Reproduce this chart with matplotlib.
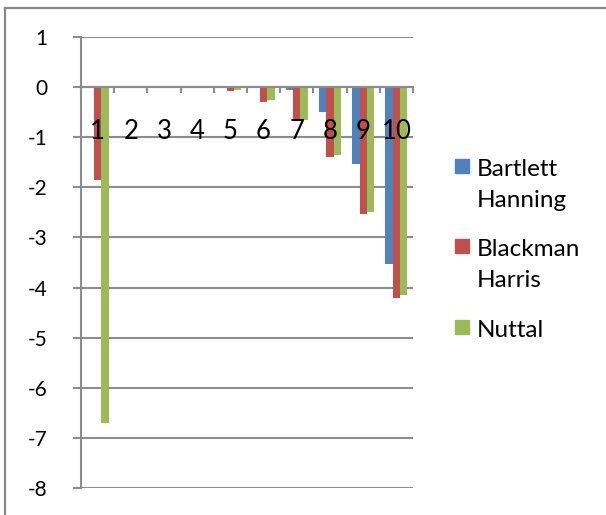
import matplotlib
matplotlib.use("Agg")
import matplotlib.pyplot as plt
from matplotlib.lines import Line2D
from matplotlib.patches import Rectangle
import numpy as np

categories = ["1", "2", "3", "4", "5", "6", "7", "8", "9", "10"]
series_names = ["Bartlett\nHanning", "Blackman\nHarris", "Nuttal"]
bartlett_hanning = [0.0, 0.02, 0.0, -0.01, -0.01, 0.0, -0.05, -0.49, -1.54, -3.52]
blackman_harris = [-1.86, 0.0, 0.0, -0.01, -0.08, -0.29, -0.67, -1.39, -2.54, -4.20]
nuttal = [-6.71, 0.0, 0.0, -0.01, -0.06, -0.25, -0.65, -1.35, -2.49, -4.15]
y_ticks = [1, 0, -1, -2, -3, -4, -5, -6, -7, -8]

colors = ["#4F81BD", "#C0504D", "#9BBB59"]
grid_color = "#8C8C8C"

W, H = 606, 515
plt.rcParams["font.family"] = ["Lato", "DejaVu Sans"]
fig = plt.figure(figsize=(W / 100, H / 100), dpi=100)
fig.patch.set_facecolor("white")

# plot area in pixel coordinates
left_px, right_px, top_px, bottom_px = 81, 413, 37, 488
ax = fig.add_axes([left_px / W, 1 - bottom_px / H,
                   (right_px - left_px) / W, (bottom_px - top_px) / H])

x = np.arange(len(categories))
bar_w = 1 / 4.5
for i, (vals, c) in enumerate(zip([bartlett_hanning, blackman_harris, nuttal], colors)):
    ax.bar(x + (i - 1) * bar_w, vals, width=bar_w, color=c, zorder=3)

ax.set_xlim(-0.5, len(categories) - 0.5)
ax.set_ylim(min(y_ticks), max(y_ticks))

# horizontal gridlines
ax.set_yticks(y_ticks)
ax.set_yticklabels([str(v) for v in y_ticks], fontsize=15)
ax.yaxis.grid(True, color=grid_color, linewidth=1.5, zorder=0)
ax.tick_params(axis="y", length=6, width=1.5, color=grid_color, pad=18,
               labelcolor="black")

# category axis along zero with boundary tick marks
ax.spines["bottom"].set_position(("data", 0))
ax.spines["bottom"].set_color(grid_color)
ax.spines["bottom"].set_linewidth(1.5)
ax.spines["bottom"].set_zorder(4)
ax.set_xticks(np.arange(-0.5, len(categories), 1.0))
ax.set_xticklabels([])
ax.tick_params(axis="x", length=4.5, width=1.5, color=grid_color)
ax.spines["left"].set_color(grid_color)
ax.spines["left"].set_linewidth(1.5)
ax.spines["top"].set_visible(False)
ax.spines["right"].set_visible(False)

for xi, lab in zip(x, categories):
    ax.text(xi, -0.88, lab, ha="center", va="center", fontsize=18.5,
            color="black", zorder=5)

# legend: colour swatch plus one text line per row
swatch_tops = [159, 239, 320]
line_gap = 31
for name, c, ytop in zip(series_names, colors, swatch_tops):
    fig.add_artist(Rectangle((455 / W, 1 - (ytop + 14) / H), 14 / W, 14 / H,
                             transform=fig.transFigure, color=c))
    for k, line in enumerate(name.split("\n")):
        base = ytop + 17 + k * line_gap
        fig.text(477 / W, 1 - base / H, line, ha="left", va="baseline",
                 fontsize=17.5, color="black")

# chart frame
fig.add_artist(Line2D([5 / W, 1], [1 - 8 / H, 1 - 8 / H], transform=fig.transFigure,
                      color="#888888", linewidth=1.6))
fig.add_artist(Line2D([5 / W, 5 / W], [0, 1 - 8 / H], transform=fig.transFigure,
                      color="#888888", linewidth=1.6))

fig.savefig("out.png", dpi=100, facecolor="white")
